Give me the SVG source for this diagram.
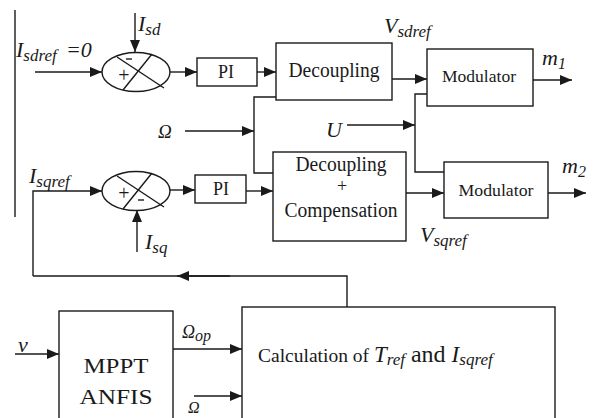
<svg xmlns="http://www.w3.org/2000/svg" width="597" height="418" viewBox="0 0 597 418">
<style>
.ln{fill:none;stroke:#1a1a1a;stroke-width:1.4}
.bx{fill:#fff;stroke:#1a1a1a;stroke-width:1.4}
.ar{fill:none;stroke:#1a1a1a;stroke-width:1.4;marker-end:url(#ah)}
.t{fill:#1a1a1a}
.it{font-style:italic}
.c{text-anchor:middle}
</style>
<defs>
<marker id="ah" markerUnits="userSpaceOnUse" markerWidth="13" markerHeight="10" refX="12" refY="5" orient="auto">
<path d="M0,0 L12,5 L0,10 z" fill="#1a1a1a"/>
</marker>
</defs>
<rect width="597" height="418" fill="#fff"/>

<g id="connectors">
<line class="ln" x1="15" y1="10" x2="15" y2="217"/>
<line class="ar" x1="35" y1="72" x2="102" y2="72"/>
<line class="ar" x1="135" y1="13" x2="135" y2="52"/>
<line class="ar" x1="170" y1="72" x2="197" y2="72"/>
<line class="ar" x1="257" y1="72" x2="276" y2="72"/>
<line class="ar" x1="392" y1="79" x2="427" y2="79"/>
<line class="ar" x1="533" y1="80" x2="572" y2="80"/>
<polyline class="ln" points="276,97 254,97 254,173 273,173"/>
<line class="ar" x1="185" y1="131" x2="254" y2="131"/>
<line class="ar" x1="347" y1="125" x2="415" y2="125"/>
<polyline class="ln" points="427,94 415,94 415,172 444,172"/>
<line class="ar" x1="406" y1="193" x2="444" y2="193"/>
<line class="ar" x1="548" y1="193" x2="586" y2="193"/>
<polyline class="ar" points="33,276 33,191 102,191"/>
<line class="ar" x1="137" y1="252" x2="137" y2="210"/>
<line class="ar" x1="170" y1="190" x2="195" y2="190"/>
<line class="ar" x1="246" y1="191" x2="273" y2="191"/>
<polyline class="ln" points="347,307 347,276 33,276"/>
<line class="ar" x1="230" y1="276" x2="177" y2="276"/>
<line class="ar" x1="15" y1="354" x2="59" y2="354"/>
<line class="ar" x1="173" y1="349" x2="242" y2="349"/>
<line class="ar" x1="194" y1="396" x2="242" y2="396"/>
</g>

<g id="sum1">
<ellipse class="bx" cx="136" cy="72" rx="34" ry="19.5"/>
<line class="ln" x1="117" y1="57" x2="164" y2="88"/>
<line class="ln" x1="152" y1="54" x2="123" y2="90"/>
<line class="ln" x1="126" y1="59" x2="132" y2="59" stroke-width="2"/>
<text x="124" y="82" class="t c" font-family="Liberation Serif" font-size="20">+</text>
</g>
<g id="sum2">
<ellipse class="bx" cx="136" cy="191" rx="34" ry="19.5"/>
<line class="ln" x1="117" y1="176" x2="164" y2="207"/>
<line class="ln" x1="152" y1="173" x2="123" y2="209"/>
<text x="124" y="200" class="t c" font-family="Liberation Serif" font-size="20">+</text>
<line class="ln" x1="138" y1="200" x2="144" y2="200" stroke-width="2"/>
</g>

<g id="pi1">
<rect class="bx" x="197" y="58" width="60" height="28"/>
<text x="226" y="78" class="t c" font-family="Liberation Serif" font-size="18">PI</text>
</g>
<g id="pi2">
<rect class="bx" x="195" y="175" width="51" height="28"/>
<text x="221" y="195" class="t c" font-family="Liberation Serif" font-size="18">PI</text>
</g>
<g id="decoupling">
<rect class="bx" x="276" y="43" width="116" height="57"/>
<text x="334" y="77" class="t c" font-family="Liberation Serif" font-size="20" textLength="91" lengthAdjust="spacingAndGlyphs">Decoupling</text>
</g>
<g id="decoupling-compensation">
<rect class="bx" x="273" y="152" width="133" height="89"/>
<text x="341" y="171" class="t c" font-family="Liberation Serif" font-size="20" textLength="91" lengthAdjust="spacingAndGlyphs">Decoupling</text>
<text x="342" y="192" class="t c" font-family="Liberation Serif" font-size="18">+</text>
<text x="341" y="217" class="t c" font-family="Liberation Serif" font-size="20" textLength="113" lengthAdjust="spacingAndGlyphs">Compensation</text>
</g>
<g id="modulator1">
<rect class="bx" x="427" y="49" width="106" height="57"/>
<text x="479" y="82" class="t c" font-family="Liberation Serif" font-size="17.5" textLength="74" lengthAdjust="spacingAndGlyphs">Modulator</text>
</g>
<g id="modulator2">
<rect class="bx" x="444" y="162" width="104" height="56"/>
<text x="496" y="196" class="t c" font-family="Liberation Serif" font-size="17.5" textLength="75" lengthAdjust="spacingAndGlyphs">Modulator</text>
</g>
<g id="mppt">
<rect class="bx" x="59" y="311" width="114" height="120"/>
<text x="116" y="373" class="t c" font-family="Liberation Serif" font-size="22" textLength="65" lengthAdjust="spacingAndGlyphs">MPPT</text>
<text x="116" y="404" class="t c" font-family="Liberation Serif" font-size="22" textLength="73" lengthAdjust="spacingAndGlyphs">ANFIS</text>
</g>
<g id="calculation">
<rect class="bx" x="242" y="307" width="313" height="124"/>
<text x="258" y="362" class="t" font-family="Liberation Serif" font-size="19.5">Calculation of <tspan class="it" font-size="23">T</tspan><tspan class="it" font-size="17" dy="3">ref</tspan><tspan font-size="24" dy="-3"> and </tspan><tspan class="it" font-size="23">I</tspan><tspan class="it" font-size="17" dy="3">sqref</tspan></text>
</g>

<g id="labels">
<text x="16" y="57" class="t it" font-family="Liberation Serif" font-size="22">I<tspan font-size="17" dy="4">sdref</tspan><tspan dy="-4" x="66">=0</tspan></text>
<text x="138" y="31" class="t it" font-family="Liberation Serif" font-size="22">I<tspan font-size="17" dy="4">sd</tspan></text>
<text x="384" y="33" class="t it" font-family="Liberation Serif" font-size="22">V<tspan font-size="17" dy="4">sdref</tspan></text>
<text x="542" y="65" class="t it" font-family="Liberation Serif" font-size="22">m<tspan font-size="16" dy="4">1</tspan></text>
<text x="562" y="173" class="t it" font-family="Liberation Serif" font-size="22">m<tspan font-size="16" dy="4">2</tspan></text>
<text x="158" y="138" class="t it" font-family="Liberation Serif" font-size="19">Ω</text>
<text x="326" y="137" class="t it" font-family="Liberation Serif" font-size="22">U</text>
<text x="29" y="183" class="t it" font-family="Liberation Serif" font-size="22">I<tspan font-size="17" dy="4">sqref</tspan></text>
<text x="145" y="249" class="t it" font-family="Liberation Serif" font-size="22">I<tspan font-size="17" dy="4">sq</tspan></text>
<text x="420" y="242" class="t it" font-family="Liberation Serif" font-size="22">V<tspan font-size="17" dy="4">sqref</tspan></text>
<text x="18" y="352" class="t it" font-family="Liberation Serif" font-size="22">v</text>
<text x="182" y="338" class="t it" font-family="Liberation Serif" font-size="18">Ω<tspan font-size="16" dy="3">op</tspan></text>
<text x="188" y="413" class="t it" font-family="Liberation Serif" font-size="16">Ω</text>
</g>
</svg>
